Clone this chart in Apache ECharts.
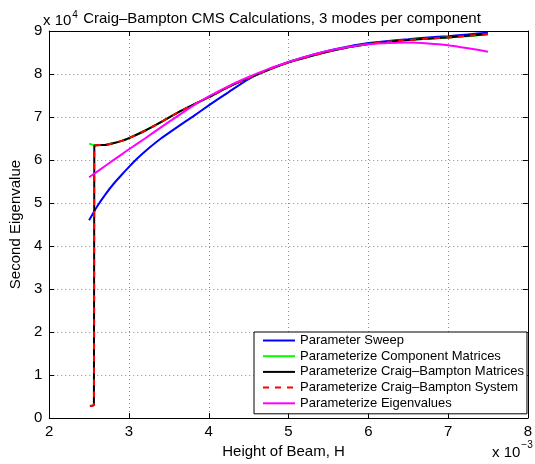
<!DOCTYPE html>
<html>
<head>
<meta charset="utf-8">
<script src="https://cdn.jsdelivr.net/npm/echarts@6/dist/echarts.min.js"></script>
<style>
  html, body { margin: 0; padding: 0; background: #fff; }
  #chart { width: 535px; height: 464px; }
</style>
</head>
<body>
<div id="chart"></div>
<script>
// Beam height H (x 1e-3) and second eigenvalue (x 1e4)
const xTicks = [2, 3, 4, 5, 6, 7, 8];
const yTicks = [0, 1, 2, 3, 4, 5, 6, 7, 8, 9];

// Parameter sweep
const sweepH   = [2.5, 2.6, 2.7, 2.8, 2.9, 3.0, 3.1, 3.2, 3.4, 3.6, 3.8, 4.0, 4.25, 4.5, 4.75, 5.0, 5.25, 5.5, 5.75, 6.0, 6.25, 6.5, 6.75, 7.0, 7.25, 7.5];
const sweepVal = [4.60, 4.92, 5.19, 5.43, 5.64, 5.84, 6.03, 6.20, 6.50, 6.76, 7.01, 7.27, 7.58, 7.88, 8.10, 8.28, 8.42, 8.54, 8.64, 8.72, 8.77, 8.81, 8.85, 8.88, 8.92, 8.96];

// Parameterize component matrices
const compH   = [2.5, 2.56, 2.7, 2.8, 2.9, 3.0, 3.2, 3.4, 3.6, 3.8, 4.0, 4.25, 4.5, 4.75, 5.0, 5.25, 5.5, 5.75, 6.0, 6.25, 6.5, 6.75, 7.0, 7.25, 7.5];
const compVal = [6.38, 6.35, 6.35, 6.39, 6.44, 6.51, 6.68, 6.88, 7.09, 7.28, 7.46, 7.70, 7.91, 8.10, 8.27, 8.40, 8.52, 8.62, 8.70, 8.75, 8.79, 8.82, 8.85, 8.88, 8.92];

// Parameterize Craig-Bampton matrices / system
const cbH   = [2.51, 2.56, 2.565, 2.7, 2.8, 2.9, 3.0, 3.2, 3.4, 3.6, 3.8, 4.0, 4.25, 4.5, 4.75, 5.0, 5.25, 5.5, 5.75, 6.0, 6.25, 6.5, 6.75, 7.0, 7.25, 7.5];
const cbMatVal = [0.28, 0.30, 6.33, 6.35, 6.39, 6.44, 6.51, 6.68, 6.88, 7.09, 7.28, 7.46, 7.70, 7.91, 8.10, 8.27, 8.40, 8.52, 8.62, 8.70, 8.75, 8.79, 8.82, 8.85, 8.89, 8.93];
const cbSysVal = [0.28, 0.30, 6.33, 6.35, 6.39, 6.44, 6.51, 6.68, 6.88, 7.09, 7.28, 7.46, 7.70, 7.91, 8.10, 8.27, 8.40, 8.52, 8.62, 8.70, 8.75, 8.79, 8.82, 8.85, 8.89, 8.93];

// Parameterize eigenvalues
const eigH   = [2.5, 2.6, 2.7, 2.8, 2.9, 3.0, 3.2, 3.4, 3.6, 3.8, 4.0, 4.25, 4.5, 4.75, 5.0, 5.25, 5.5, 5.75, 6.0, 6.25, 6.5, 6.75, 7.0, 7.25, 7.5];
const eigVal = [5.60, 5.73, 5.86, 5.99, 6.12, 6.25, 6.50, 6.76, 7.01, 7.26, 7.48, 7.72, 7.93, 8.12, 8.28, 8.42, 8.54, 8.63, 8.69, 8.72, 8.73, 8.71, 8.67, 8.60, 8.52];

const seriesNames = [
  'Parameter Sweep',
  'Parameterize Component Matrices',
  'Parameterize Craig\u2013Bampton Matrices',
  'Parameterize Craig\u2013Bampton System',
  'Parameterize Eigenvalues'
];

const pairs = (xs, ys) => xs.map((x, i) => [x, ys[i]]);
const FONT = 'Liberation Sans, Arial, sans-serif';

function lineSeries(name, xs, ys, color, type) {
  return {
    name: name,
    type: 'line',
    data: pairs(xs, ys),
    showSymbol: false,
    symbol: 'none',
    smooth: 0.2,
    xAxisIndex: 0,
    yAxisIndex: 0,
    lineStyle: { color: color, width: 2, type: type || 'solid' },
    itemStyle: { color: color },
    emphasis: { disabled: true },
    animation: false
  };
}

const chart = echarts.init(document.getElementById('chart'), null, { renderer: 'canvas' });

const frameAxis = {
  interval: 1,
  axisLine: { show: true, onZero: false, lineStyle: { color: '#000', width: 1 } },
  axisTick: { show: true, inside: true, length: 5, lineStyle: { color: '#000' } },
  splitLine: { show: false },
  axisLabel: { show: false }
};

chart.setOption({
  backgroundColor: '#fff',
  animation: false,
  title: {
    text: 'Craig\u2013Bampton CMS Calculations, 3 modes per component',
    left: 277, top: 6, textAlign: 'center',
    textStyle: { fontFamily: FONT, fontSize: 15, fontWeight: 'normal', color: '#000' }
  },
  grid: { left: 43.5, right: 1.5, top: 31, bottom: 46, containLabel: false },
  xAxis: [
    {
      type: 'value', position: 'bottom', min: xTicks[0], max: xTicks[xTicks.length - 1], interval: 1,
      name: 'Height of Beam, H', nameLocation: 'middle', nameGap: 18,
      nameTextStyle: { fontFamily: FONT, fontSize: 15, color: '#000', padding: [0, 10, 0, 0] },
      axisLine: { show: true, onZero: false, lineStyle: { color: '#000', width: 1 } },
      axisTick: { show: true, inside: true, length: 5, lineStyle: { color: '#000' } },
      axisLabel: { fontFamily: FONT, fontSize: 15, color: '#000', margin: 6 },
      splitLine: { show: true, lineStyle: { color: '#8a8a8a', type: [1, 3], width: 1 } }
    },
    Object.assign({}, frameAxis, { type: 'value', position: 'top', min: xTicks[0], max: xTicks[xTicks.length - 1] })
  ],
  yAxis: [
    {
      type: 'value', position: 'left', min: yTicks[0], max: yTicks[yTicks.length - 1], interval: 1,
      name: 'Second Eigenvalue', nameLocation: 'middle', nameGap: 15,
      nameTextStyle: { fontFamily: FONT, fontSize: 15, color: '#000' },
      axisLine: { show: true, onZero: false, lineStyle: { color: '#000', width: 1 } },
      axisTick: { show: true, inside: true, length: 5, lineStyle: { color: '#000' } },
      axisLabel: { fontFamily: FONT, fontSize: 15, color: '#000', margin: 7 },
      splitLine: { show: true, lineStyle: { color: '#8a8a8a', type: [1, 3], width: 1 } }
    },
    Object.assign({}, frameAxis, { type: 'value', position: 'right', min: yTicks[0], max: yTicks[yTicks.length - 1] })
  ],
  legend: {
    orient: 'vertical',
    left: 254, top: 332,
    backgroundColor: '#fff',
    borderColor: '#000', borderWidth: 1, borderRadius: 0,
    padding: [1, 3, 3, 8],
    itemWidth: 32, itemHeight: 12, itemGap: 0.7,
    itemStyle: { opacity: 0 },
    textStyle: { fontFamily: FONT, fontSize: 13, color: '#000', lineHeight: 15 },
    data: seriesNames.map(n => ({ name: n })),
    selectedMode: false
  },
  graphic: [
    {
      type: 'text', left: 43, top: 10,
      style: {
        text: '{b|x 10}{s|4}',
        rich: {
          b: { fontFamily: FONT, fontSize: 15, fill: '#000', verticalAlign: 'bottom', lineHeight: 18 },
          s: { fontFamily: FONT, fontSize: 10, fill: '#000', verticalAlign: 'top', lineHeight: 18, padding: [0, 0, 8, 1] }
        }
      }
    },
    {
      type: 'text', left: 492, top: 440,
      style: {
        text: '{b|x 10}{s|\u22123}',
        rich: {
          b: { fontFamily: FONT, fontSize: 15, fill: '#000', verticalAlign: 'bottom', lineHeight: 20 },
          s: { fontFamily: FONT, fontSize: 10, fill: '#000', verticalAlign: 'top', lineHeight: 20, padding: [0, 0, 8, 1] }
        }
      }
    }
  ],
  series: [
    lineSeries(seriesNames[0], sweepH, sweepVal, '#0000ff'),
    lineSeries(seriesNames[1], compH, compVal, '#00ff00'),
    lineSeries(seriesNames[2], cbH, cbMatVal, '#000000'),
    lineSeries(seriesNames[3], cbH, cbSysVal, '#ff0000', [6, 6]),
    lineSeries(seriesNames[4], eigH, eigVal, '#ff00ff')
  ]
});
</script>
</body>
</html>
